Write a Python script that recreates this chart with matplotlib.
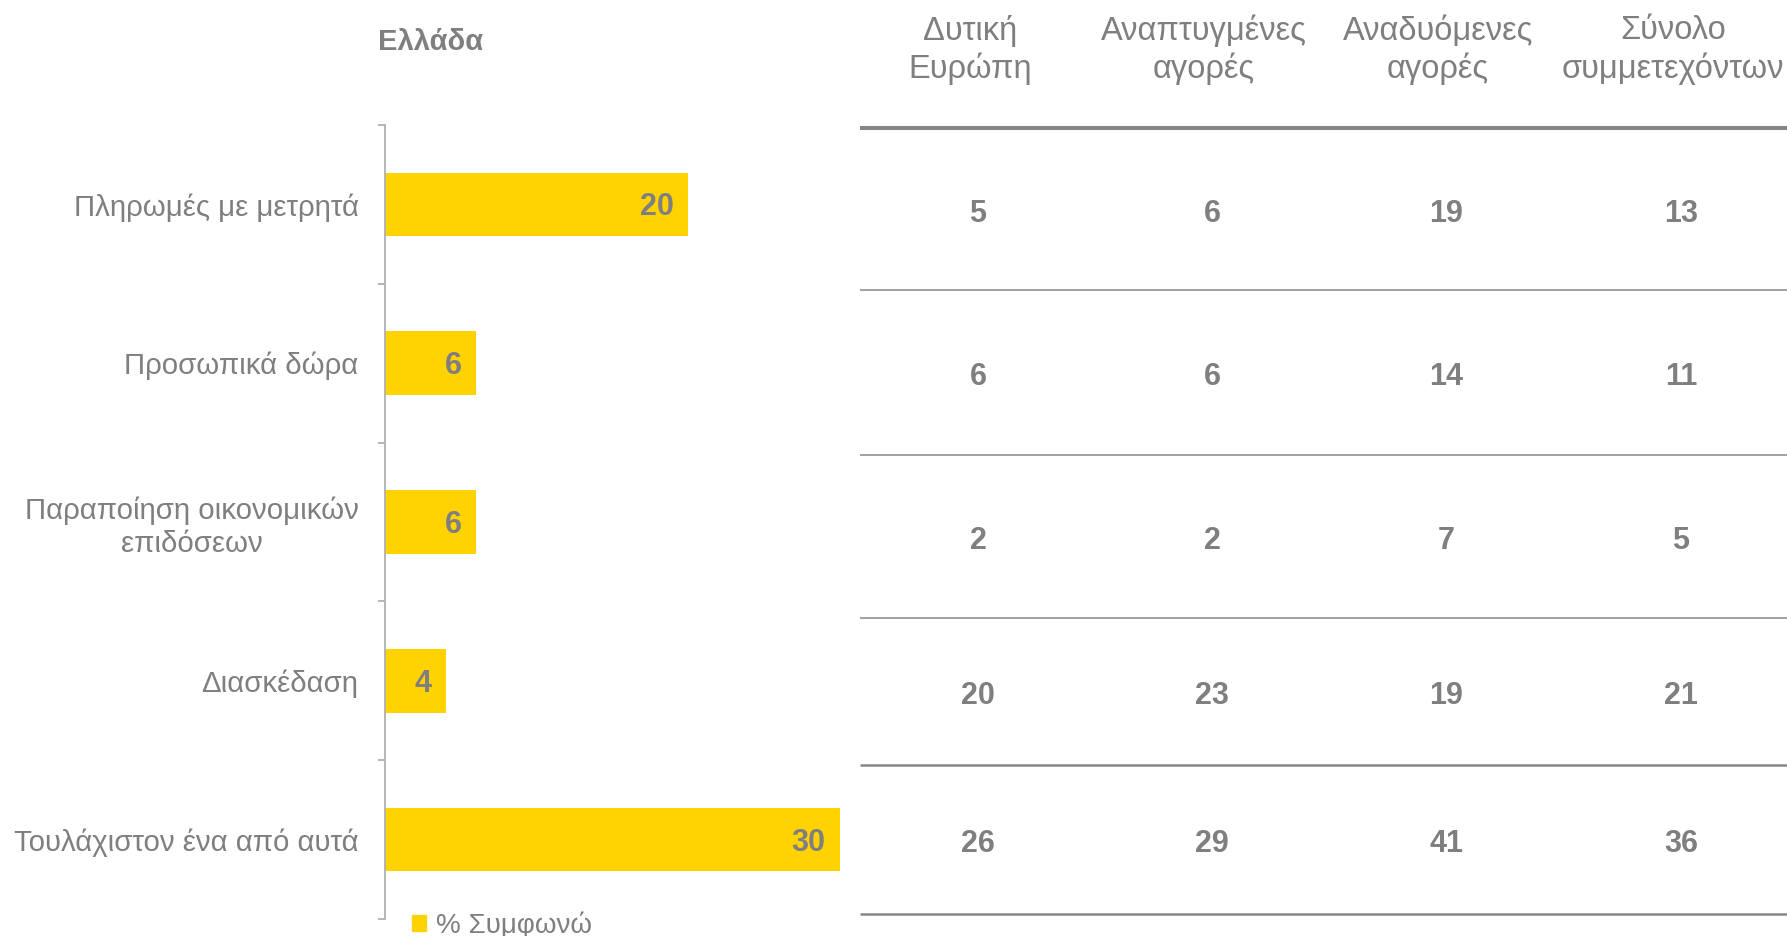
import matplotlib.pyplot as plt
from matplotlib.patches import Patch
from matplotlib.transforms import ScaledTranslation

plt.rcParams['font.family'] = ['Liberation Sans', 'DejaVu Sans']

categories = [
    "Πληρωμές με μετρητά",
    "Προσωπικά δώρα",
    "Παραποίηση οικονομικών\nεπιδόσεων",
    "Διασκέδαση",
    "Τουλάχιστον ένα από αυτά",
]
greece = [20, 6, 6, 4, 30]

table_cols = ["Δυτική\nΕυρώπη", "Αναπτυγμένες\nαγορές", "Αναδυόμενες\nαγορές", "Σύνολο\nσυμμετεχόντων"]
west_europe = [5, 6, 2, 20, 26]
developed = [6, 6, 2, 23, 29]
emerging = [19, 14, 7, 19, 41]
all_resp = [13, 11, 5, 21, 36]

yellow = "#FFD200"
grey = "#7f7f7f"
W, H = 1787, 936

fig = plt.figure(figsize=(W / 100, H / 100), dpi=100)

# bar chart (left part)
ax = fig.add_axes([385 / W, 1 - 919 / H, 455 / W, (919 - 125) / H])
y = list(range(len(categories)))
ax.barh(y, greece, height=0.4, color=yellow)
ax.set_ylim(len(categories) - 0.5, -0.5)
ax.set_xlim(0, 30)
down = ax.transData + ScaledTranslation(0, -3 / 100, fig.dpi_scale_trans)
for yi, v in zip(y, greece):
    ax.text(v - 0.95, yi, str(v), ha="right", va="center", transform=down,
            fontsize=22, fontweight="bold", color=grey)

for s in ["top", "right", "bottom"]:
    ax.spines[s].set_visible(False)
ax.spines["left"].set_color("#b0b0b0")
ax.spines["left"].set_linewidth(1.3)
ax.set_xticks([])
ax.set_yticks(y)
ax.set_yticklabels(categories, fontsize=21.2, color=grey)
for lab in ax.get_yticklabels():
    lab.set_multialignment("center")
ax.tick_params(axis="y", which="major", length=0, pad=19)
ax.set_yticks([i - 0.5 for i in range(len(categories) + 1)], minor=True)
ax.tick_params(axis="y", which="minor", length=5, width=1.3, color="#b0b0b0")

fig.text(378 / W, 1 - 42 / H, "Ελλάδα", fontsize=21, fontweight="bold",
         color=grey, ha="left", va="center")

fig.legend(handles=[Patch(color=yellow, label="% Συμφωνώ")],
           loc="center left", bbox_to_anchor=(412 / W, 1 - 925 / H),
           frameon=False, fontsize=20, labelcolor=grey,
           handlelength=0.5, handleheight=0.5, handletextpad=0.35,
           borderaxespad=0, borderpad=0)

# table (right part), in pixel-like coordinates
tx = fig.add_axes([0, 0, 1, 1])
tx.set_xlim(0, W)
tx.set_ylim(H, 0)
tx.axis("off")

col_x = [978, 1212, 1446, 1681]
row_y = [214, 377, 541, 696, 844]
for cx, head in zip(col_x, table_cols):
    tx.text(cx - 8, 50, head, ha="center", va="center", fontsize=23.5,
            color=grey, linespacing=1.22)

for cx, col in zip(col_x, [west_europe, developed, emerging, all_resp]):
    for ry, v in zip(row_y, col):
        tx.text(cx, ry, str(v), ha="center", va="center", fontsize=22,
                fontweight="bold", color=grey)

rules = [(128, 2.9), (290, 1.1), (455, 1.1), (618, 1.1), (765, 1.8), (914, 1.8)]
for ry, lw in rules:
    tx.plot([860, W], [ry, ry], color="#868686", lw=lw, solid_capstyle="butt")

fig.savefig("out.png", dpi=100)
